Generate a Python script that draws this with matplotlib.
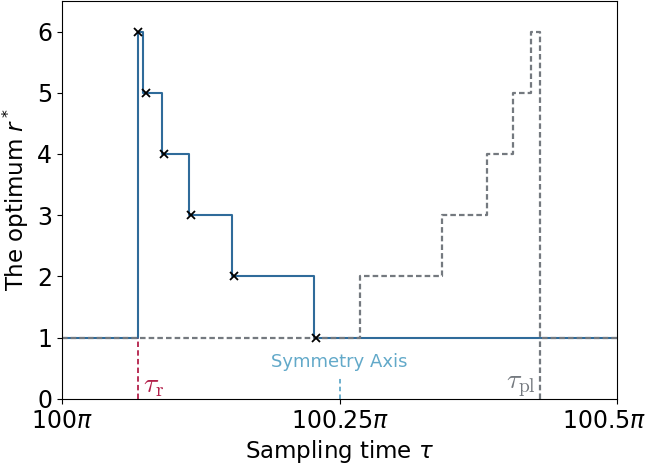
import matplotlib
matplotlib.use("Agg")
import matplotlib.pyplot as plt
from matplotlib.transforms import ScaledTranslation

# step curve of the optimum r* (x in units of pi)
blue_x = [100.0, 100.0689, 100.0732, 100.0898, 100.1144, 100.1534, 100.2273, 100.5]
blue_y = [1, 6, 5, 4, 3, 2, 1, 1]

# crosses on the blue curve
mark_x = [100.0687, 100.0754, 100.0922, 100.1162, 100.1550, 100.2286]
mark_y = [6, 5, 4, 3, 2, 1]

# mirrored dashed curve
gray_x = [100.0, 100.2685, 100.3423, 100.3826, 100.4060, 100.4225, 100.4300, 100.5]
gray_y = [1, 2, 3, 4, 5, 6, 1, 1]

tau_r = 100.0689
tau_pl = 100.4300
sym_axis = 100.25

xticks = [100.0, 100.25, 100.5]
xtick_labels = [r'$100\pi$', r'$100.25\pi$', r'$100.5\pi$']

blue = '#2f6b9a'
gray = '#74797f'
red = '#b3204a'
light = '#62a9c9'

fig = plt.figure(figsize=(6.45, 4.72), dpi=100)
ax = fig.add_axes([0.096, 0.155, 0.861, 0.843])

ax.step(blue_x, blue_y, where='post', color=blue, lw=1.5)
ax.step(gray_x, gray_y, where='post', color=gray, lw=1.6, ls=(0, (2.5, 1.4)))
ax.plot(mark_x, mark_y, 'x', color='black', ms=6, mew=1.3)

# vertical reference lines
ax.plot([tau_r, tau_r], [0, 1], color=red, lw=1.3, ls=(0, (3, 1.8)))
ax.plot([tau_pl, tau_pl], [0, 1], color=gray, lw=1.6, ls=(0, (2.5, 1.4)))
ax.plot([sym_axis, sym_axis], [0, 0.36], color=light, lw=1.3, ls=(0, (2.5, 1.8)))

ax.text(tau_r + 0.004, 0.22, r'$\tau_{\rm r}$', color=red, fontsize=20,
        math_fontfamily='cm', ha='left', va='center')
ax.text(tau_pl - 0.003, 0.22, r'$\tau_{\rm pl}$', color=gray, fontsize=20,
        math_fontfamily='cm', ha='right', va='center')
ax.text(sym_axis, 0.6, 'Symmetry Axis', color=light, fontsize=13,
        ha='center', va='center')

ax.set_xlim(100.0, 100.5)
ax.set_ylim(0, 6.5)
ax.set_xticks(xticks)
ax.set_xticklabels(xtick_labels)
ax.set_yticks(range(0, 7))
ax.tick_params(labelsize=17)
ax.set_xlabel(r'Sampling time $\tau$', fontsize=16.5)
ax.set_ylabel(r'The optimum $r^*$', fontsize=16.5)

# last tick label sits a bit left of its tick, as in the original
last = ax.get_xticklabels()[-1]
last.set_transform(last.get_transform() + ScaledTranslation(-0.13, 0, fig.dpi_scale_trans))

fig.savefig('out.png', dpi=100)
